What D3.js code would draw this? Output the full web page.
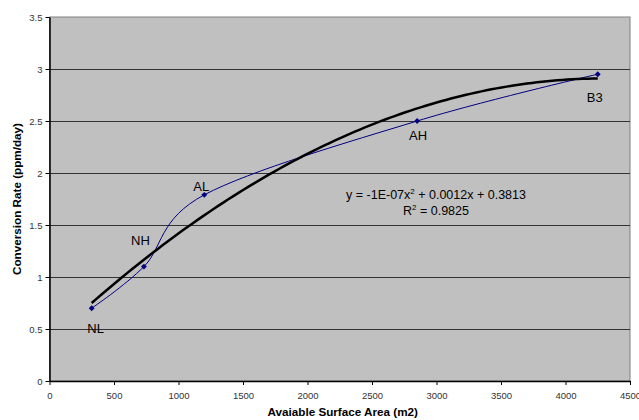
<!DOCTYPE html>
<html>
<head>
<meta charset="utf-8">
<script src="https://cdn.jsdelivr.net/npm/d3@7"></script>
<style>
  body { margin: 0; background: #fff; }
  text { font-family: "Liberation Sans", Arial, sans-serif; }
</style>
</head>
<body>
<div id="chart"></div>
<script>
/**
 * Chart data.
 */
const samples = ["NL", "NH", "AL", "AH", "B3"];
const surfaceArea = [327, 732, 1200, 2850, 4250];
const conversionRate = [0.70, 1.10, 1.79, 2.50, 2.95];
const xTicks = [0, 500, 1000, 1500, 2000, 2500, 3000, 3500, 4000, 4500];
const yTicks = [0, 0.5, 1, 1.5, 2, 2.5, 3, 3.5];

/**
 * Dimensions.
 */
const W = 639, H = 420;
const Margin = { top: 17, right: 9, bottom: 39, left: 49.5 };
const Width = W - Margin.left - Margin.right;
const Height = H - Margin.top - Margin.bottom;


// Least squares quadratic fit (what the spreadsheet trendline does).
const quadFit = (xs, ys) => {
    const s = k => d3.sum(xs, x => Math.pow(x, k));
    const t = k => d3.sum(xs, (x, i) => Math.pow(x, k) * ys[i]);
    const A = [[s(4), s(3), s(2)], [s(3), s(2), s(1)], [s(2), s(1), xs.length]];
    const b = [t(2), t(1), t(0)];
    const det = m => m[0][0] * (m[1][1] * m[2][2] - m[1][2] * m[2][1])
        - m[0][1] * (m[1][0] * m[2][2] - m[1][2] * m[2][0])
        + m[0][2] * (m[1][0] * m[2][1] - m[1][1] * m[2][0]);
    const D = det(A);
    const col = j => A.map((r, i) => r.map((v, k) => k == j ? b[i] : v));
    return [det(col(0)) / D, det(col(1)) / D, det(col(2)) / D];
}


const svg = d3.select("#chart").append("svg")
    .attr("width", W)
    .attr("height", H);

const g = svg.append("g")
    .attr("transform", `translate(${Margin.left},${Margin.top})`);

const x = d3.scaleLinear().domain([0, 4500]).range([0, Width]);
const y = d3.scaleLinear().domain([0, 3.5]).range([Height, 0]);

// Plot background.
g.append("rect")
    .attr("width", Width)
    .attr("height", Height)
    .attr("fill", "#c0c0c0")
    .attr("stroke", "#808080")
    .attr("stroke-width", 1);

// Gridlines.
g.append("g")
    .selectAll("line")
    .data(yTicks.filter(d => d > 0 && d < 3.5))
    .join("line")
        .attr("x1", 0)
        .attr("x2", Width)
        .attr("y1", d => Math.round(y(d)) + 0.5)
        .attr("y2", d => Math.round(y(d)) + 0.5)
        .attr("stroke", "#333")
        .attr("stroke-width", 1);

// Axes.
const xAxis = g.append("g")
    .attr("transform", `translate(0,${Height})`)
    .call(d3.axisBottom(x).tickValues(xTicks).tickSize(4).tickSizeOuter(0).tickPadding(7)
        .tickFormat(d3.format("")));
const yAxis = g.append("g")
    .call(d3.axisLeft(y).tickValues(yTicks).tickSize(4).tickSizeOuter(0).tickPadding(3)
        .tickFormat(d3.format("")));
[xAxis, yAxis].forEach(a => {
    a.select(".domain").attr("stroke", "#000").attr("stroke-width", 1.5);
    a.selectAll(".tick line").attr("stroke", "#000");
    a.selectAll(".tick text")
        .attr("fill", "#333")
        .style("font-size", "9.5px")
        .style("font-family", "Liberation Sans, Arial, sans-serif");
});

// Trendline.
const [a2, a1, a0] = quadFit(surfaceArea, conversionRate);
const xMin = d3.min(surfaceArea), xMax = d3.max(surfaceArea);
const trend = d3.range(0, 101).map(i => {
    const xv = xMin + (xMax - xMin) * i / 100;
    return [xv, a2 * xv * xv + a1 * xv + a0];
});

// Data line (smoothed).
const pts = surfaceArea.map((d, i) => [d, conversionRate[i]]);
g.append("path")
    .datum(pts)
    .attr("fill", "none")
    .attr("stroke", "#000080")
    .attr("stroke-width", 1)
    .attr("d", d3.line().x(d => x(d[0])).y(d => y(d[1])).curve(d3.curveCardinal.tension(0)));

g.append("path")
    .datum(trend)
    .attr("fill", "none")
    .attr("stroke", "#000")
    .attr("stroke-width", 2.5)
    .attr("d", d3.line().x(d => x(d[0])).y(d => y(d[1])));

// Markers.
g.append("g")
    .selectAll("path")
    .data(pts)
    .join("path")
        .attr("transform", d => `translate(${x(d[0])},${y(d[1])})`)
        .attr("d", d3.symbol(d3.symbolDiamond2, 22))
        .attr("fill", "#000080");

// Point labels.
const labelOffset = { NL: [4, 25], NH: [-3.5, -22], AL: [-3, -4], AH: [1, 19], B3: [-3, 28] };
g.append("g")
    .selectAll("text")
    .data(samples)
    .join("text")
        .attr("x", (d, i) => x(surfaceArea[i]) + labelOffset[d][0])
        .attr("y", (d, i) => y(conversionRate[i]) + labelOffset[d][1])
        .attr("text-anchor", "middle")
        .style("font-size", "13px")
        .text(d => d);

// Equation.
const eq = g.append("text")
    .attr("x", 436 - Margin.left)
    .attr("y", 199 - Margin.top)
    .attr("text-anchor", "middle")
    .style("font-size", "12.5px");
eq.append("tspan").text("y = -1E-07x");
eq.append("tspan").attr("dy", -5).style("font-size", "8px").text("2");
eq.append("tspan").attr("dy", 5).text(" + 0.0012x + 0.3813");
const r2 = g.append("text")
    .attr("x", 436 - Margin.left)
    .attr("y", 215 - Margin.top)
    .attr("text-anchor", "middle")
    .style("font-size", "12.5px");
r2.append("tspan").text("R");
r2.append("tspan").attr("dy", -5).style("font-size", "8px").text("2");
r2.append("tspan").attr("dy", 5).text(" = 0.9825");

// Axis titles.
svg.append("text")
    .attr("x", Margin.left + Width / 2 + 3)
    .attr("y", 416)
    .attr("text-anchor", "middle")
    .style("font-size", "11.7px")
    .style("font-weight", "bold")
    .text("Avaiable Surface Area (m2)");
svg.append("text")
    .attr("transform", `translate(21,${Margin.top + Height / 2}) rotate(-90)`)
    .attr("text-anchor", "middle")
    .style("font-size", "11.7px")
    .style("font-weight", "bold")
    .text("Conversion Rate (ppm/day)");
</script>
</body>
</html>
